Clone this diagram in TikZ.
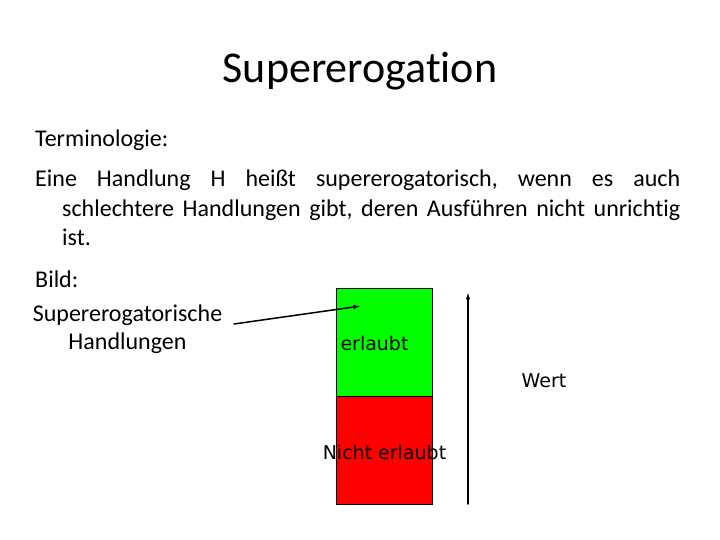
\documentclass[tikz,border=0pt]{standalone}
\usepackage{fontspec}
\setmainfont{Carlito}[Ligatures=NoCommon]
\newfontfamily\dejavu{DejaVu Sans}
\usepackage{tikz}
\usetikzlibrary{arrows.meta}
\usepackage{xcolor}
\frenchspacing

\begin{document}
\begin{tikzpicture}[x=1pt,y=-1pt,>={Latex[length=2.6mm,width=1.6mm]},line cap=round,
  fliess/.style={font=\fontsize{24}{29.4}\selectfont,inner sep=0pt},
  feld/.style={draw=black,line width=0.8pt,minimum width=96pt,minimum height=108pt,inner sep=0pt},
  feldtext/.style={font=\dejavu\fontsize{19}{23}\selectfont,inner sep=0pt}]
\useasboundingbox (0,0) rectangle (720,540);
\fill[white] (0,0) rectangle (720,540);
\node[font=\fontsize{44}{53}\selectfont,inner sep=0pt,anchor=base] (titel) at (360,83) {Supererogation};
\node[fliess,anchor=base west] (termin) at (35,147) {Terminologie:};
\node[fliess,anchor=base west,text width=645pt,align=justify] (definition) at (35,187)
  {\leftskip=27pt\noindent\hspace*{-27pt}Eine Handlung H heißt supererogatorisch, wenn es auch\linebreak
   schlechtere Handlungen gibt, deren Ausführen nicht unrichtig\linebreak ist.\par};
\node[fliess,anchor=base west] (bild) at (35,287) {Bild:};
\node[font=\fontsize{24}{28}\selectfont,inner sep=0pt,anchor=base,align=center] (handlungen) at (127.5,349)
  {Supererogatorische\\Handlungen};
% Wertskala
\node[feld,fill=green,anchor=north west] (gruen) at (336,288) {};
\node[feld,fill=red,anchor=north west] (rot) at (336,396) {};
\node[feldtext] (erlaubt) at (374.5,343) {erlaubt};
\node[feldtext] (nichterlaubt) at (384.5,452) {Nicht erlaubt};
\node[feldtext] (wert) at (544,381) {Wert};
\coordinate (pfeilstart) at (234,324);
\coordinate (pfeilziel) at (361,306);
\draw[->,line width=1.5pt] (pfeilstart) -- (pfeilziel);
\coordinate (wertunten) at (468,504);
\coordinate (wertoben) at (468,292);
\draw[->,line width=1.5pt] (wertunten) -- (wertoben);
\end{tikzpicture}
\end{document}
